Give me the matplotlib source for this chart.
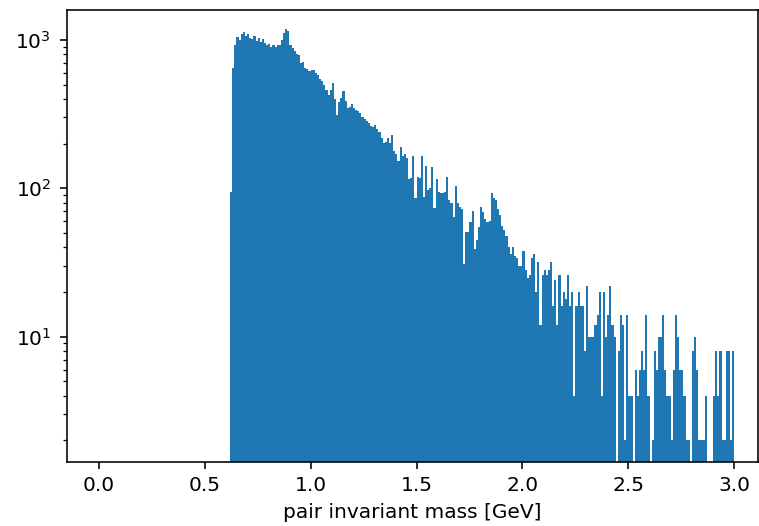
import numpy as np
import matplotlib
matplotlib.use("Agg")
import matplotlib.pyplot as plt

# --- histogram settings (0 - 3 GeV, 10 MeV bins) ---
MASS_MIN = 0.0
MASS_MAX = 3.0
N_BINS = 300
FIRST_FILLED_BIN = 62   # bins below 0.62 GeV are empty

# counts per bin, starting at 0.62 GeV
counts = [
    94, 650, 930, 1040, 1000, 1090, 1130, 1060,                  # 0.62
    1100, 1030, 1020, 1060, 980, 1030, 970, 1020, 950, 930,       # 0.70
    940, 900, 930, 890, 920, 930, 1000, 1110, 1180, 1150,         # 0.80
    930, 880, 840, 800, 790, 700, 710, 650, 640, 620,             # 0.90
    630, 625, 600, 584, 548, 527, 500, 463, 428, 460,             # 1.00
    514, 400, 314, 380, 407, 451, 386, 350, 355, 367,             # 1.10
    350, 339, 330, 320, 304, 291, 282, 276, 262, 258,             # 1.20
    265, 249, 240, 219, 202, 205, 219, 202, 230, 178,             # 1.30
    169, 152, 190, 164, 169, 160, 116, 118, 165, 86,              # 1.40
    120, 118, 164, 88, 142, 98, 100, 140, 74, 115,                # 1.50
    95, 93, 93, 95, 120, 84, 80, 64, 103, 80,                     # 1.60
    75, 72, 31, 51, 51, 59, 70, 39, 45, 55,                       # 1.70
    75, 69, 62, 59, 60, 93, 86, 84, 72, 66,                       # 1.80
    56, 52, 48, 40, 36, 40, 35, 34, 30, 30,                       # 1.90
    38, 28, 25, 26, 34, 36, 20, 32, 12, 26,                       # 2.00
    28, 26, 28, 32, 16, 24, 12, 26, 16, 20,                       # 2.10
    18, 26, 16, 20, 4, 16, 20, 16, 16, 8,                         # 2.20
    22, 10, 10, 10, 12, 14, 20, 4, 20, 10,                        # 2.30
    14, 22, 12, 10, 0, 8, 14, 12, 2, 14,                          # 2.40
    4, 4, 0, 6, 4, 6, 8, 6, 14, 4,                                # 2.50
    0, 2, 8, 6, 10, 10, 14, 6, 4, 4,                              # 2.60
    2, 6, 14, 10, 6, 6, 4, 2, 2, 0,                               # 2.70
    8, 10, 6, 2, 2, 2, 4, 0, 0, 0,                                # 2.80
    4, 8, 4, 8, 2, 2, 8, 8, 2, 8,                                 # 2.90
]

x_label = "pair invariant mass [GeV]"

# full list of bin contents (empty bins in front)
weights = np.zeros(N_BINS)
weights[FIRST_FILLED_BIN:FIRST_FILLED_BIN + len(counts)] = counts
edges = np.linspace(MASS_MIN, MASS_MAX, N_BINS + 1)
centers = 0.5 * (edges[:-1] + edges[1:])

plt.rcParams["font.size"] = 14.5
plt.rcParams["axes.linewidth"] = 1.15
plt.rcParams["axes.labelpad"] = 5.5
plt.rcParams["xtick.major.pad"] = 5.0
plt.rcParams["ytick.major.pad"] = 6.5
for ax_name in ("xtick", "ytick"):
    plt.rcParams[ax_name + ".major.size"] = 5.0
    plt.rcParams[ax_name + ".major.width"] = 1.15
    plt.rcParams[ax_name + ".minor.size"] = 3.0
    plt.rcParams[ax_name + ".minor.width"] = 0.9

fig = plt.figure(figsize=(7.59, 5.26), dpi=100)
ax = fig.add_axes([67 / 759, 64 / 526, 691 / 759, 452 / 526])

ax.hist(centers, bins=edges, weights=weights, log=True, color="#1f77b4")

ax.set_xlim(-0.15, 3.112)
ax.set_ylim(1.43, 1590)
ax.set_xticks([0.0, 0.5, 1.0, 1.5, 2.0, 2.5, 3.0])
ax.set_xlabel(x_label)

fig.savefig("out.png", dpi=100)
